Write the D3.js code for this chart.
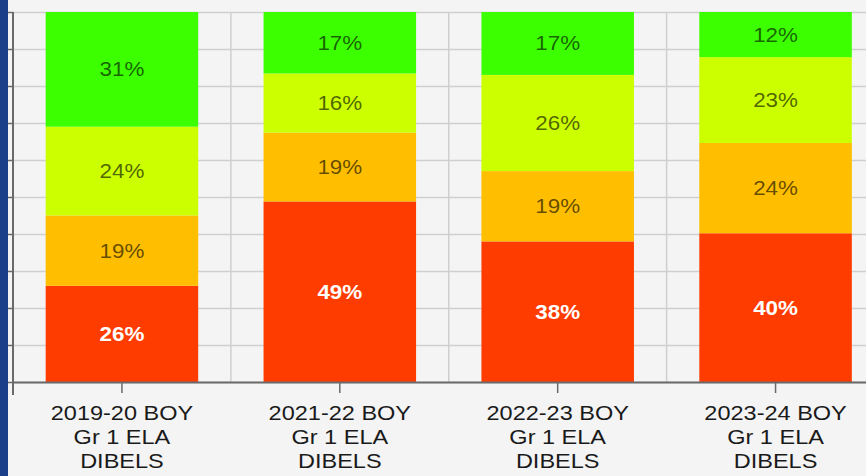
<!DOCTYPE html>
<html><head><meta charset="utf-8">
<script src="https://cdn.jsdelivr.net/npm/d3@7"></script>
<style>html,body{margin:0;padding:0;background:#f4f4f4;overflow:hidden}svg{display:block}</style>
</head><body><svg id="c" width="866" height="476"></svg>
<script>
// ---- data ----
const categories = ["2019-20 BOY", "2021-22 BOY", "2022-23 BOY", "2023-24 BOY"];
const subLabel1 = "Gr 1 ELA";
const subLabel2 = "DIBELS";
const levelNames = ["Well Below", "Below", "At", "Above"];
const wellBelow = [26, 48.8, 38, 40.2];
const below     = [19, 18.6, 19, 24.4];
const atLevel   = [24, 16.0, 26, 23.2];
const above     = [31, 16.6, 17, 12.2];
const yTicks = [0, 10, 20, 30, 40, 50, 60, 70, 80, 90, 100];
const levelColors = ["#ff3c00", "#ffbe00", "#ccff00", "#3cff00"];

// ---- layout ----
const W = 866, H = 476;
const mLeft = 13, mTop = 12, mBottom = 382, rightExt = 884.5;
const svg = d3.select("#c");

svg.append("rect").attr("width", W).attr("height", H).attr("fill", "#f4f4f4");

const x = d3.scaleBand().domain(categories).range([mLeft, rightExt]).paddingInner(0.3).paddingOuter(0.15);
const y = d3.scaleLinear().domain([0, 100]).range([mBottom, mTop]);

const table = categories.map((c, i) => ({cat: c, "Well Below": wellBelow[i], "Below": below[i], "At": atLevel[i], "Above": above[i]}));
const stack = d3.stack().keys(levelNames)(table);

// grid
const grid = svg.append("g");
grid.selectAll("line.h").data(yTicks).join("line")
  .attr("x1", mLeft).attr("x2", W).attr("y1", d => y(d) + 0.5).attr("y2", d => y(d) + 0.5)
  .attr("stroke", "#cfcfcf").attr("stroke-width", 1.5);
const step = x.step();
const bounds = categories.slice(1).map(c => x(c) - step * x.paddingInner() / 2);
grid.selectAll("line.v").data(bounds).join("line")
  .attr("x1", d => d).attr("x2", d => d).attr("y1", mTop).attr("y2", mBottom)
  .attr("stroke", "#cfcfcf").attr("stroke-width", 1.5);

// bars
const layers = svg.append("g").selectAll("g").data(stack).join("g")
  .attr("fill", (d, i) => levelColors[i]);
layers.selectAll("rect").data(d => d).join("rect")
  .attr("x", d => x(d.data.cat)).attr("width", x.bandwidth())
  .attr("y", d => y(d[1])).attr("height", d => y(d[0]) - y(d[1]));

// bar labels
const lab = svg.append("g");
stack.forEach((layer, li) => {
  layer.forEach(d => {
    const cx = x(d.data.cat) + x.bandwidth() / 2;
    const cy = (y(d[0]) + y(d[1])) / 2;
    lab.append("text")
      .attr("transform", `translate(${cx},${cy + 7}) scale(1.12,1)`)
      .attr("text-anchor", "middle")
      .attr("font-family", "Liberation Sans, Arial, sans-serif")
      .attr("font-size", 20)
      .attr("fill", li === 0 ? "#ffffff" : "rgba(0,0,0,0.62)")
      .attr("font-weight", li === 0 ? "bold" : "normal")
      .text(Math.round(d[1] - d[0]) + "%");
  });
});

// axes
const yAxis = svg.append("g").attr("transform", `translate(${mLeft},0)`)
  .call(d3.axisLeft(y).tickValues(yTicks).tickSize(5).tickFormat(""));
yAxis.select(".domain").remove();
yAxis.selectAll("line").attr("stroke", "#6a6a6a").attr("stroke-width", 1.5);
svg.append("line").attr("x1", mLeft).attr("x2", mLeft).attr("y1", mTop).attr("y2", 395)
  .attr("stroke", "#6a6a6a").attr("stroke-width", 2);

const xAxis = svg.append("g").attr("transform", `translate(0,${mBottom})`)
  .call(d3.axisBottom(x).tickSize(11).tickFormat(""));
xAxis.select(".domain").remove();
xAxis.selectAll("line").attr("stroke", "#6a6a6a").attr("stroke-width", 1.5);
svg.append("line").attr("x1", mLeft).attr("x2", W).attr("y1", mBottom + 0.5).attr("y2", mBottom + 0.5)
  .attr("stroke", "#6a6a6a").attr("stroke-width", 2);

// category labels
const xl = svg.append("g");
categories.forEach(c => {
  const cx = x(c) + x.bandwidth() / 2;
  [c, subLabel1, subLabel2].forEach((t, k) => {
    xl.append("text")
      .attr("transform", `translate(${cx},${420 + k * 24}) scale(1.12,1)`)
      .attr("text-anchor", "middle")
      .attr("font-family", "Liberation Sans, Arial, sans-serif")
      .attr("font-size", 21)
      .attr("fill", "#1a1a1a")
      .text(t);
  });
});

// left frame strip
svg.append("rect").attr("x", 0).attr("y", 0).attr("width", 8).attr("height", H).attr("fill", "#1c3f8a");
</script>
</body></html>
